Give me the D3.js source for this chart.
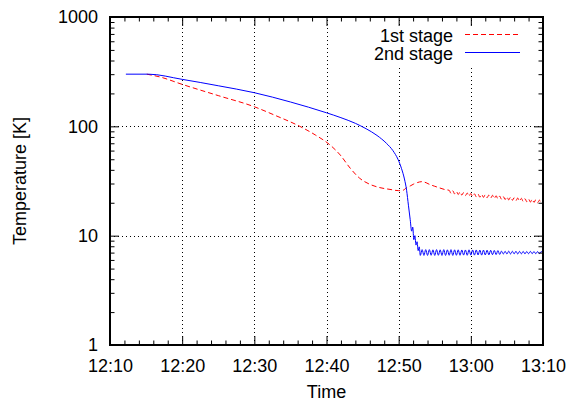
<!DOCTYPE html>
<html>
<head>
<meta charset="utf-8">
<script src="https://cdn.jsdelivr.net/npm/d3@7"></script>
<style>
  body { margin: 0; background: #fff; }
  text { font-family: "Liberation Sans", Arial, sans-serif; font-size: 18px; fill: #000; }
</style>
</head>
<body>
<div id="chart"></div>
<script>
// tick labels
const xTickLabels = ["12:10", "12:20", "12:30", "12:40", "12:50", "13:00", "13:10"];
const yTicks = [1, 10, 100, 1000];
const seriesNames = ["1st stage", "2nd stage"];

// 1st stage: minutes after 12:00, temperature [K]
const stage1Time = [15.1, 17, 20, 25, 30, 33, 36.3, 38.5, 40.5, 41.9, 43.3, 44.6, 46, 47.4, 48.8, 50, 50.6, 51.1, 51.6, 52.1, 52.6, 53.2, 53.8, 54.3, 55, 55.7, 56.4,
  57, 57.25, 57.5, 57.75, 58, 58.25, 58.5, 58.75, 59, 59.25, 59.5, 59.75, 60, 60.25, 60.5, 60.75, 61, 61.25, 61.5, 61.75,
  62, 62.25, 62.5, 62.75, 63, 63.25, 63.5, 63.75, 64, 64.25, 64.5, 64.75, 65, 65.25, 65.5, 65.75, 66, 66.25, 66.5, 66.75,
  67, 67.25, 67.5, 67.75, 68, 68.25, 68.5, 68.75, 69, 69.25, 69.5, 69.75, 70];
const stage1Temp = [300, 282, 242, 191, 151, 125, 100, 83, 67.5, 54.7, 41.3, 33.5, 29.5, 27.5, 26.5, 25.8, 26, 27.5, 28.5, 29.7, 30.6, 31.2, 30.5, 29.4, 28.3, 27.3, 26.4,
  26.0, 24.4, 25.75, 24.1, 25.4, 23.8, 25.1, 23.5, 24.8, 23.25, 24.55, 23.0, 24.3, 22.8, 24.15, 22.65, 24.0, 22.5, 23.85, 22.4,
  23.7, 22.25, 23.55, 22.1, 23.4, 21.9, 23.2, 21.7, 23.0, 21.55, 22.8, 21.4, 22.65, 21.25, 22.45, 21.05, 22.25, 20.9, 22.1, 20.75,
  21.95, 20.6, 21.8, 20.45, 21.6, 20.3, 21.5, 20.15, 21.3, 20.0, 21.15, 19.85, 20.4];

// 2nd stage
const stage2Time = [12.2, 15.3, 20, 25, 30, 35, 40, 42, 44, 45.5, 47, 48.3, 49.2, 49.9, 50.4, 50.8, 51.1, 51.35, 51.6, 51.8, 51.95, 52.1, 52.25, 52.4, 52.55, 52.7, 52.85,
  53, 53.25, 53.5, 53.75, 54, 54.25, 54.5, 54.75, 55, 55.25, 55.5, 55.75, 56, 56.25, 56.5, 56.75, 57, 57.25, 57.5, 57.75,
  58, 58.25, 58.5, 58.75, 59, 59.25, 59.5, 59.75, 60, 60.25, 60.5, 60.75, 61, 61.25, 61.5, 61.75, 62, 62.25, 62.5, 62.75,
  63, 63.25, 63.5, 63.75, 64, 64.25, 64.5, 64.75, 65, 65.25, 65.5, 65.75, 66, 66.25, 66.5, 66.75, 67, 67.25, 67.5, 67.75,
  68, 68.25, 68.5, 68.75, 69, 69.25, 69.5, 69.75, 70];
const stage2Temp = [300, 300, 269, 235, 203, 167, 133, 120, 106.5, 95, 82.5, 70, 60, 50, 41, 33, 26, 19, 14, 11, 12, 9.2, 10, 8.2, 8.8, 7.3, 7.9,
  6.6, 7.45, 6.6, 7.45, 6.6, 7.45, 6.62, 7.42, 6.6, 7.45, 6.62, 7.42, 6.6, 7.45, 6.6, 7.42, 6.62, 7.45, 6.6, 7.42,
  6.62, 7.42, 6.62, 7.4, 6.64, 7.4, 6.62, 7.42, 6.64, 7.4, 6.64, 7.4, 6.66, 7.38, 6.64, 7.38, 6.66, 7.36, 6.68, 7.35,
  6.7, 7.32, 6.72, 7.3, 6.74, 7.22, 6.8, 7.2, 6.8, 7.22, 6.8, 7.2, 6.82, 7.2, 6.8, 7.18, 6.82, 7.18, 6.82, 7.16,
  6.84, 7.18, 6.84, 7.16, 6.84, 7.15, 6.86, 7.14, 7.0];

const w = 570, h = 402;
const m = { left: 110, right: 27, top: 17, bottom: 57 };

const parse = d3.timeParse("%H:%M");
const fmt = d3.timeFormat("%H:%M");
const base = parse("12:00");
const at = min => new Date(+base + min * 60000);

const xMajor = xTickLabels.map(parse);
const x = d3.scaleTime().domain([xMajor[0], xMajor[xMajor.length - 1]]).range([m.left, w - m.right]);
const y = d3.scaleLog().domain([1, 1000]).range([h - m.bottom, m.top]);

const xMinor = d3.timeMinute.every(2).range(xMajor[0], xMajor[xMajor.length - 1]).filter(d => d.getMinutes() % 10 !== 0);
const yMinor = y.ticks().filter(d => !yTicks.includes(d));

const svg = d3.select("#chart").append("svg")
  .attr("width", w).attr("height", h)
  .attr("viewBox", "0 0 " + w + " " + h);

// grid
const grid = svg.append("g").attr("stroke", "#000").attr("stroke-width", 1).attr("stroke-dasharray", "1,3");
grid.selectAll(null).data(xMajor.slice(1, -1)).enter().append("line")
  .attr("x1", d => Math.round(x(d)) + 0.5).attr("x2", d => Math.round(x(d)) + 0.5)
  .attr("y1", y(1)).attr("y2", y(1000));
grid.selectAll(null).data(yTicks.slice(1, -1)).enter().append("line")
  .attr("y1", d => Math.round(y(d)) + 0.5).attr("y2", d => Math.round(y(d)) + 0.5)
  .attr("x1", m.left).attr("x2", w - m.right);

// legend background hides grid behind key
svg.append("rect").attr("x", 366).attr("y", 27).attr("width", 168).attr("height", 38).attr("fill", "#fff");

// data lines
const line = d3.line().x(d => x(at(d[0]))).y(d => y(d[1])).curve(d3.curveMonotoneX);
const data1 = stage1Time.map((t, i) => [t, stage1Temp[i]]);
const data2 = stage2Time.map((t, i) => [t, stage2Temp[i]]);
svg.append("path").datum(data1).attr("d", line)
  .attr("fill", "none").attr("stroke", "#ff0000").attr("stroke-width", 1).attr("stroke-dasharray", "5,3");
svg.append("path").datum(data2).attr("d", line)
  .attr("fill", "none").attr("stroke", "#0000ff").attr("stroke-width", 1);

// axes (ticks inward on all four sides)
function styleAxis(g) {
  g.select(".domain").remove();
  g.selectAll("line").attr("stroke", "#000").attr("stroke-width", 1);
  g.selectAll("text").attr("font-size", 18).attr("font-family", "Liberation Sans, Arial, sans-serif").attr("fill", "#000");
}
svg.append("g").attr("transform", "translate(0," + y(1) + ")")
  .call(d3.axisBottom(x).tickValues(xMajor).tickFormat(fmt).tickSizeInner(-9).tickSizeOuter(0).tickPadding(14)).call(styleAxis);
svg.append("g").attr("transform", "translate(0," + y(1) + ")")
  .call(d3.axisBottom(x).tickValues(xMinor).tickFormat("").tickSizeInner(-4.5).tickSizeOuter(0)).call(styleAxis);
svg.append("g").attr("transform", "translate(0," + y(1000) + ")")
  .call(d3.axisTop(x).tickValues(xMajor).tickFormat("").tickSizeInner(-9).tickSizeOuter(0)).call(styleAxis);
svg.append("g").attr("transform", "translate(0," + y(1000) + ")")
  .call(d3.axisTop(x).tickValues(xMinor).tickFormat("").tickSizeInner(-4.5).tickSizeOuter(0)).call(styleAxis);
svg.append("g").attr("transform", "translate(" + m.left + ",0)")
  .call(d3.axisLeft(y).tickValues(yTicks).tickFormat(d3.format("d")).tickSizeInner(-9).tickSizeOuter(0).tickPadding(12)).call(styleAxis);
svg.append("g").attr("transform", "translate(" + m.left + ",0)")
  .call(d3.axisLeft(y).tickValues(yMinor).tickFormat("").tickSizeInner(-4.5).tickSizeOuter(0)).call(styleAxis);
svg.append("g").attr("transform", "translate(" + (w - m.right) + ",0)")
  .call(d3.axisRight(y).tickValues(yTicks).tickFormat("").tickSizeInner(-9).tickSizeOuter(0)).call(styleAxis);
svg.append("g").attr("transform", "translate(" + (w - m.right) + ",0)")
  .call(d3.axisRight(y).tickValues(yMinor).tickFormat("").tickSizeInner(-4.5).tickSizeOuter(0)).call(styleAxis);

// frame
svg.append("rect").attr("x", m.left).attr("y", m.top)
  .attr("width", w - m.left - m.right).attr("height", h - m.top - m.bottom)
  .attr("fill", "none").attr("stroke", "#000").attr("stroke-width", 2);

// axis titles
svg.append("text").attr("x", (m.left + w - m.right) / 2).attr("y", 398).attr("text-anchor", "middle").text("Time");
svg.append("text").attr("transform", "translate(26," + (m.top + h - m.bottom) / 2 + ") rotate(-90)")
  .attr("text-anchor", "middle").text("Temperature [K]");

// legend
const legend = svg.append("g");
const legendColors = ["#ff0000", "#0000ff"];
const legendDash = ["5,3", null];
seriesNames.forEach((name, i) => {
  const yy = 42 + i * 18;
  legend.append("text").attr("x", 453).attr("y", yy).attr("text-anchor", "end").text(name);
  legend.append("line").attr("x1", 465).attr("x2", 520).attr("y1", yy - 7.5).attr("y2", yy - 7.5)
    .attr("stroke", legendColors[i]).attr("stroke-width", 1).attr("stroke-dasharray", legendDash[i]);
});
</script>
</body>
</html>
